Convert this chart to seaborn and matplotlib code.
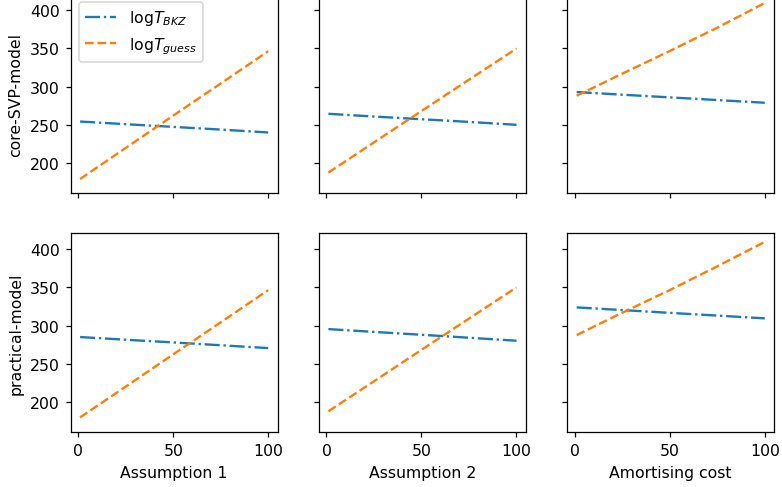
import numpy as np
import pandas as pd
import matplotlib
matplotlib.use("Agg")
import matplotlib.pyplot as plt
import seaborn as sns

# x positions of the sampled points
x_vals = [1, 25, 50, 75, 100]

# column / row titles
col_labels = ["Assumption 1", "Assumption 2", "Amortising cost"]
row_labels = ["core-SVP-model", "practical-model"]

# log T_BKZ per (row, col)
bkz_core_a1 = [254.5, 251.0, 247.5, 244.0, 240.2]
bkz_core_a2 = [264.6, 261.0, 257.5, 254.0, 250.2]
bkz_core_am = [293.0, 289.5, 286.0, 282.5, 279.0]
bkz_prac_a1 = [285.2, 281.7, 278.2, 274.5, 270.8]
bkz_prac_a2 = [295.6, 291.9, 288.2, 284.3, 280.4]
bkz_prac_am = [323.9, 320.4, 316.8, 313.2, 309.6]

# log T_guess per (row, col)
guess_core_a1 = [179.5, 220.0, 262.2, 304.1, 346.3]
guess_core_a2 = [187.8, 227.3, 268.2, 309.1, 349.8]
guess_core_am = [288.2, 317.0, 346.5, 377.0, 409.2]
guess_prac_a1 = [180.4, 220.5, 262.6, 304.4, 346.5]
guess_prac_a2 = [188.3, 227.5, 268.5, 309.3, 350.0]
guess_prac_am = [287.8, 317.0, 346.5, 377.5, 409.5]

yticks = [200, 250, 300, 350, 400]
xticks = [0, 50, 100]

bkz = [[bkz_core_a1, bkz_core_a2, bkz_core_am],
       [bkz_prac_a1, bkz_prac_a2, bkz_prac_am]]
guess = [[guess_core_a1, guess_core_a2, guess_core_am],
         [guess_prac_a1, guess_prac_a2, guess_prac_am]]

lbl_bkz = r"log$T_{BKZ}$"
lbl_guess = r"log$T_{guess}$"

DPI = 113
fig, axes = plt.subplots(2, 3, figsize=(782 / DPI, 488 / DPI), dpi=DPI,
                         sharex=True, sharey=True)
fig.subplots_adjust(left=0.0904, right=0.990, bottom=0.1121, top=1.0102,
                    wspace=0.2, hspace=0.2)

blue = "#1f77b4"
orange = "#ff7f0e"

for r in range(2):
    for c in range(3):
        ax = axes[r, c]
        df = pd.DataFrame({
            "x": x_vals + x_vals,
            "y": bkz[r][c] + guess[r][c],
            "series": [lbl_bkz] * len(x_vals) + [lbl_guess] * len(x_vals),
        })
        sns.lineplot(data=df[df.series == lbl_bkz], x="x", y="y", ax=ax,
                     color=blue, linestyle="-.", label=lbl_bkz,
                     legend=(r == 0 and c == 0))
        sns.lineplot(data=df[df.series == lbl_guess], x="x", y="y", ax=ax,
                     color=orange, linestyle="--", label=lbl_guess,
                     legend=(r == 0 and c == 0))
        ax.set_xlabel(col_labels[c] if r == 1 else "")
        ax.set_ylabel(row_labels[r] if c == 0 else "")
        ax.set_xticks(xticks)
        ax.set_yticks(yticks)
        ax.set_xlim(-3.95, 104.95)
        ax.set_ylim(160.9, 420.9)

axes[0, 0].legend(loc="upper left")
for r in range(2):
    for c in range(3):
        if not (r == 0 and c == 0):
            lg = axes[r, c].get_legend()
            if lg is not None:
                lg.remove()

fig.savefig("out.png", dpi=DPI)
